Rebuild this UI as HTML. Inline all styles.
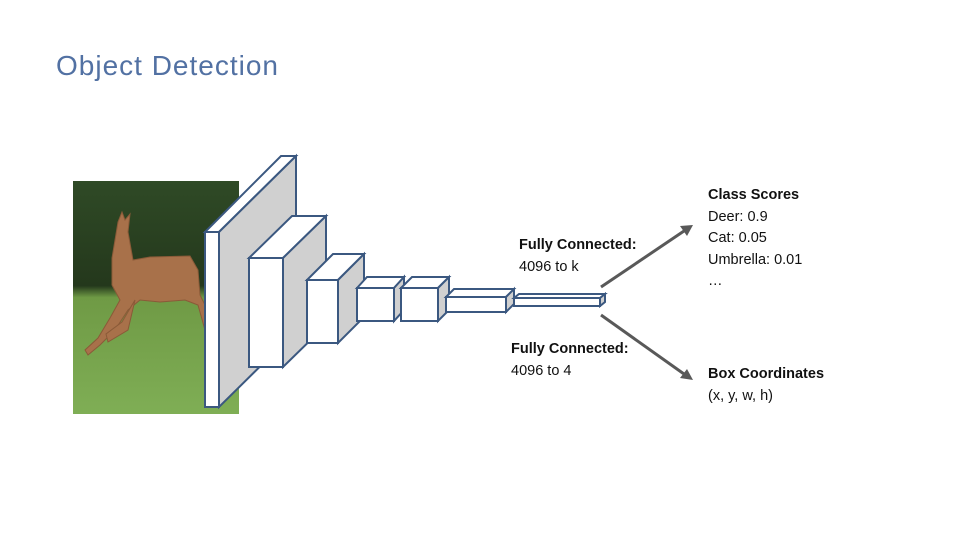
<!DOCTYPE html>
<html><head><meta charset="utf-8"><style>
body{margin:0;width:960px;height:540px;background:#fff;overflow:hidden;position:relative;font-family:"Liberation Sans",sans-serif}
.t{position:absolute;font-size:14.5px;color:#111;line-height:21.5px;white-space:nowrap}
b{font-weight:bold}
</style></head><body>
<div style="position:absolute;left:56px;top:50px;font-size:28px;color:#5271a3;letter-spacing:1px">Object Detection</div>
<svg width="960" height="540" style="position:absolute;left:0;top:0">
<defs>
<linearGradient id="bg" x1="0" y1="0" x2="0" y2="1">
<stop offset="0" stop-color="#2f4a26"/><stop offset="0.45" stop-color="#24381c"/><stop offset="0.5" stop-color="#6f9a45"/><stop offset="1" stop-color="#7fae55"/>
</linearGradient>
</defs>
<rect x="73" y="181" width="166" height="233" fill="url(#bg)"/>
<g fill="#a8714a" stroke="#8a5a38" stroke-width="1">
<path d="M112,258 L118,222 L122,212 L125,220 L130,214 L128,232 L133,260 L150,257 L190,256 L198,270 L200,295 L210,315 L205,330 L198,305 L185,300 L160,302 L140,300 L128,310 L115,330 L100,345 L88,355 L85,350 L98,338 L110,318 L120,300 L112,285 Z"/>
<path d="M135,300 L128,330 L108,342 L106,334 L122,322 Z"/>
</g>
<g fill="#fff" stroke="#3b5880" stroke-width="2" stroke-linejoin="miter">
<polygon points="205,232 281,156 296,156 219,232"/>
<polygon points="219,232 296,156 296,331 219,407" fill="#d0d0d0"/>
<rect x="205" y="232" width="14" height="175"/>
<polygon points="249,258 292,216 326,216 283,258"/>
<polygon points="283,258 326,216 326,325 283,367" fill="#d0d0d0"/>
<rect x="249" y="258" width="34" height="109"/>
<polygon points="307,280 333,254 364,254 338,280"/>
<polygon points="338,280 364,254 364,317 338,343" fill="#d0d0d0"/>
<rect x="307" y="280" width="31" height="63"/>
<polygon points="357,288 367,277 404,277 394,288"/>
<polygon points="394,288 404,277 404,310 394,321" fill="#d0d0d0"/>
<rect x="357" y="288" width="37" height="33"/>
<polygon points="401,288 412,277 449,277 438,288"/>
<polygon points="438,288 449,277 449,310 438,321" fill="#d0d0d0"/>
<rect x="401" y="288" width="37" height="33"/>
<polygon points="446,297 454,289 514,289 506,297"/>
<polygon points="506,297 514,289 514,304 506,312" fill="#d0d0d0"/>
<rect x="446" y="297" width="60" height="15"/>
<polygon points="514,298 519,294 605,294 600,298"/>
<polygon points="600,298 605,294 605,302 600,306" fill="#d0d0d0"/>
<rect x="514" y="298" width="86" height="8"/>
</g>
<g stroke="#595959" stroke-width="3" fill="#595959">
<line x1="601" y1="287" x2="684" y2="231"/>
<polygon points="693,225 680,226 687,236" stroke="none"/>
<line x1="601" y1="315" x2="684" y2="374"/>
<polygon points="693,380 687,369 680,378" stroke="none"/>
</g>
</svg>
<div class="t" style="left:519px;top:235px"><b>Fully Connected:</b><br>4096 to k</div>
<div class="t" style="left:511px;top:339px"><b>Fully Connected:</b><br>4096 to 4</div>
<div class="t" style="left:708px;top:185px"><b>Class Scores</b><br>Deer: 0.9<br>Cat: 0.05<br>Umbrella: 0.01<br>…</div>
<div class="t" style="left:708px;top:364px"><b>Box Coordinates</b><br>(x, y, w, h)</div>
</body></html>
